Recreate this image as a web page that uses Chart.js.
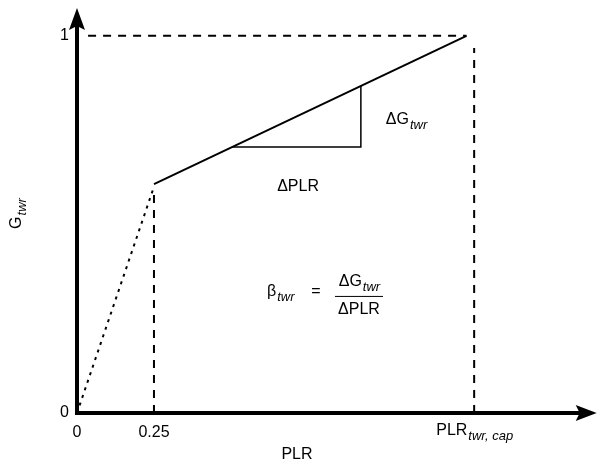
<!DOCTYPE html>
<html>
<head>
<meta charset="utf-8">
<script src="https://cdn.jsdelivr.net/npm/chart.js"></script>
<style>
  html, body { margin: 0; padding: 0; background: #fff; }
  #wrap { width: 597px; height: 465px; }
</style>
</head>
<body>
<div id="wrap"><canvas id="chart" width="597" height="465"></canvas></div>
<script>
// values (x = PLR, y = G_twr)
const xTicks = [0, 0.25, 1.29];
const xTickLabels = ["0", "0.25", "PLR"];
const yTicks = [0, 1];
const yTickLabels = ["0", "1"];

const dottedX = [0, 0.25];
const dottedY = [0, 0.6];
const slopeX = [0.25, 1.265];
const slopeY = [0.607, 1];
const triX = [0.503, 0.922, 0.922];
const triY = [0.705, 0.705, 0.867];
const topDashX = [0.036, 1.265];
const topDashY = [1, 1];
const lowDashX = [0.25, 0.25];
const lowDashY = [0, 0.59];
const capDashX = [1.29, 1.29];
const capDashY = [0, 0.968];

const xAxisEnd = 1.688;
const yAxisEnd = 1.074;

const FONT = "Liberation Sans, Arial, sans-serif";

function pts(xs, ys) {
    return xs.map((x, i) => ({ x: x, y: ys[i] }));
}

function line(label, xs, ys, width, dash) {
    return {
        label: label,
        data: pts(xs, ys),
        showLine: true,
        borderColor: "#000",
        borderWidth: width,
        borderDash: dash || [],
        pointRadius: 0,
        fill: false,
    };
}

// main text with an italic subscript; align is "left" or "center"
function subText(ctx, main, sub, x, y, align) {
    ctx.font = "16px " + FONT;
    const w1 = ctx.measureText(main).width;
    ctx.font = "italic 13px " + FONT;
    const w2 = ctx.measureText(sub).width;
    let x0 = align === "center" ? x - (w1 + w2) / 2 : x;
    ctx.textAlign = "left";
    ctx.textBaseline = "middle";
    ctx.font = "16px " + FONT;
    ctx.fillText(main, x0, y);
    ctx.font = "italic 13px " + FONT;
    ctx.fillText(sub, x0 + w1 + 1, y + 5);
    return w1 + w2 + 1;
}

const axesPlugin = {
    id: "arrowAxes",
    afterDatasetsDraw(chart) {
        const ctx = chart.ctx;
        const xs = chart.scales.x;
        const ys = chart.scales.y;
        const x0 = xs.getPixelForValue(0);
        const y0 = ys.getPixelForValue(0);
        const xe = xs.getPixelForValue(xAxisEnd);
        const ye = ys.getPixelForValue(yAxisEnd);
        ctx.save();
        ctx.strokeStyle = "#000";
        ctx.fillStyle = "#000";
        ctx.lineWidth = 4;
        ctx.lineCap = "butt";
        ctx.beginPath();
        ctx.moveTo(x0, y0 + 2);
        ctx.lineTo(x0, ye + 14);
        ctx.moveTo(x0 - 2, y0);
        ctx.lineTo(xe - 14, y0);
        ctx.stroke();

        // arrow heads
        ctx.beginPath();
        ctx.moveTo(x0, ye);
        ctx.lineTo(x0 - 8, ye + 22);
        ctx.lineTo(x0, ye + 18);
        ctx.lineTo(x0 + 8, ye + 22);
        ctx.closePath();
        ctx.fill();
        ctx.beginPath();
        ctx.moveTo(xe, y0);
        ctx.lineTo(xe - 21, y0 - 8);
        ctx.lineTo(xe - 17, y0);
        ctx.lineTo(xe - 21, y0 + 8);
        ctx.closePath();
        ctx.fill();

        // tick labels
        ctx.font = "16px " + FONT;
        ctx.textBaseline = "middle";
        ctx.textAlign = "right";
        yTicks.forEach((v, i) => {
            ctx.fillText(yTickLabels[i], x0 - 8, ys.getPixelForValue(v));
        });
        xTicks.forEach((v, i) => {
            const px = xs.getPixelForValue(v);
            if (i === 2) {
                subText(ctx, xTickLabels[i], "twr, cap", px, y0 + 18, "center");
            } else {
                ctx.font = "16px " + FONT;
                ctx.textAlign = "center";
                ctx.fillText(xTickLabels[i], px, y0 + 20);
            }
        });

        // axis titles
        ctx.font = "16px " + FONT;
        ctx.textAlign = "center";
        ctx.fillText("PLR", 297, 455);
        ctx.save();
        ctx.translate(17, 214);
        ctx.rotate(-Math.PI / 2);
        subText(ctx, "G", "twr", 0, 0, "center");
        ctx.restore();

        // triangle labels
        ctx.font = "16px " + FONT;
        ctx.textAlign = "center";
        ctx.fillText("\u0394PLR", xs.getPixelForValue(0.718), ys.getPixelForValue(0.6));
        subText(ctx, "\u0394G", "twr", xs.getPixelForValue(1.003), ys.getPixelForValue(0.777), "left");

        // slope formula
        const bx = xs.getPixelForValue(0.617);
        const by = ys.getPixelForValue(0.321);
        subText(ctx, "\u03b2", "twr", bx, by, "left");
        ctx.font = "16px " + FONT;
        ctx.textAlign = "center";
        ctx.fillText("=", bx + 49, by);
        const fx = bx + 92;
        subText(ctx, "\u0394G", "twr", fx, by - 10, "center");
        ctx.font = "16px " + FONT;
        ctx.textAlign = "center";
        ctx.fillText("\u0394PLR", fx, by + 18);
        ctx.lineWidth = 1;
        ctx.beginPath();
        ctx.moveTo(fx - 24, by + 4.5);
        ctx.lineTo(fx + 24, by + 4.5);
        ctx.stroke();
        ctx.restore();
    },
};

new Chart(document.getElementById("chart"), {
    type: "scatter",
    data: {
        datasets: [
            line("dotted", dottedX, dottedY, 2, [3, 5]),
            line("slope", slopeX, slopeY, 2),
            line("triangle", triX, triY, 1.5),
            line("top", topDashX, topDashY, 2, [8, 7]),
            line("low", lowDashX, lowDashY, 2, [8, 7]),
            line("cap", capDashX, capDashY, 2, [8, 7]),
        ],
    },
    options: {
        responsive: false,
        animation: false,
        layout: { padding: { left: 77, right: 12, top: 17, bottom: 52 } },
        plugins: { legend: { display: false }, tooltip: { enabled: false } },
        scales: {
            x: { type: "linear", min: 0, max: 1.65, display: false },
            y: { type: "linear", min: 0, max: 1.05, display: false },
        },
    },
    plugins: [axesPlugin],
});
</script>
</body>
</html>
